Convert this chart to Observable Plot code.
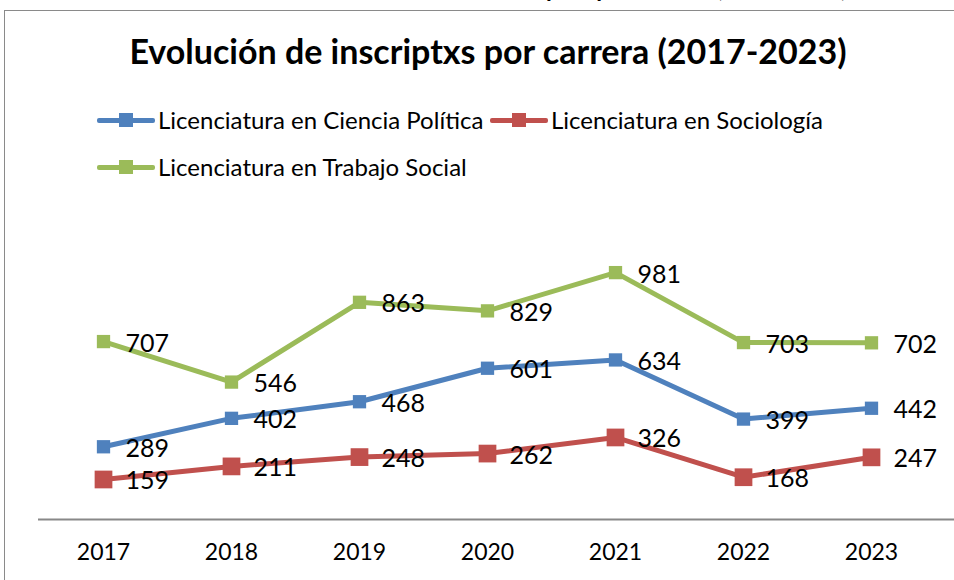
<!DOCTYPE html>
<html>
<head>
<meta charset="utf-8">
<script src="https://cdn.jsdelivr.net/npm/d3@7"></script>
<script src="https://cdn.jsdelivr.net/npm/@observablehq/plot@0.6"></script>
<style>
  html, body { margin: 0; padding: 0; background: #fff; }
  #wrap { position: relative; width: 954px; height: 580px; overflow: hidden; font-family: Lato, "Open Sans", sans-serif; color: #000; }
  #frame { position: absolute; left: 4px; top: 10px; width: 1000px; height: 600px; border: 1.5px solid #8a8a8a; box-sizing: border-box; }
  #cut { position: absolute; right: 107px; top: -24px; font-weight: 700; font-size: 23.5px; line-height: 24px; white-space: nowrap; }
  #title { position: absolute; left: 0; width: 976px; top: 30px; text-align: center; font-weight: 700; font-size: 34px; white-space: nowrap; }
  .leg { position: absolute; display: flex; align-items: center; font-size: 24px; white-space: nowrap; }
  .sw { position: relative; width: 58px; height: 14px; margin-right: 3px; }
  .sw .ln { position: absolute; left: 0; right: 0; top: 5px; height: 5px; border-radius: 2px; }
  .sw .sq { position: absolute; left: 22px; top: 0; width: 14px; height: 14px; }
  #chart { position: absolute; left: 0; top: 190px; }
</style>
</head>
<body>
<div id="wrap">
  <div id="cut">Evolución de inscriptxs por carrera (2017-2023)</div>
  <div id="frame"></div>
  <div id="title">Evolución de inscriptxs por carrera (2017-2023)</div>
  <div id="legend"></div>
  <div id="chart"></div>
</div>
<script>
const years = [2017, 2018, 2019, 2020, 2021, 2022, 2023];
const seriesNames = ["Licenciatura en Ciencia Política", "Licenciatura en Sociología", "Licenciatura en Trabajo Social"];
const cienciaPolitica = [289, 402, 468, 601, 634, 399, 442];
const sociologia = [159, 211, 248, 262, 326, 168, 247];
const trabajoSocial = [707, 546, 863, 829, 981, 703, 702];
const colors = ["#4F81BD", "#C0504D", "#9BBB59"];

const seriesValues = [cienciaPolitica, sociologia, trabajoSocial];
const data = seriesNames.flatMap((s, i) => years.map((y, j) => ({year: y, value: seriesValues[i][j], serie: s})));

// Legend
const legendPos = [[97, 109], [490, 109], [97, 156]];
const legend = document.getElementById("legend");
seriesNames.forEach((s, i) => {
  const el = document.createElement("div");
  el.className = "leg";
  el.style.left = legendPos[i][0] + "px";
  el.style.top = (legendPos[i][1] - 4) + "px";
  el.innerHTML = `<div class="sw"><div class="ln" style="background:${colors[i]}"></div><div class="sq" style="background:${colors[i]}"></div></div><span>${s}</span>`;
  legend.appendChild(el);
});

const chart = Plot.plot({
  width: 954,
  height: 390,
  marginTop: 27,
  marginBottom: 61,
  marginLeft: 38,
  marginRight: 0,
  style: {fontFamily: "Lato, 'Open Sans', sans-serif", color: "#000", background: "transparent", overflow: "visible"},
  x: {type: "point", domain: years, range: [36.6, 938.4], label: null},
  y: {domain: [0, 1200], axis: null},
  color: {domain: seriesNames, range: colors},
  marks: [
    Plot.ruleY([0], {stroke: "#888", strokeWidth: 2}),
    Plot.lineY(data, {x: "year", y: "value", z: "serie", stroke: "serie", strokeWidth: 5}),
    Plot.dot(data.filter(d => d.serie !== seriesNames[1]), {x: "year", y: "value", fill: "serie", symbol: "square", r: 7.5}),
    Plot.dot(data.filter(d => d.serie === seriesNames[1]), {x: "year", y: "value", fill: "serie", symbol: "square", r: 10}),
    Plot.text(data, {x: "year", y: "value", text: d => String(d.value), dx: 22, dy: 2, textAnchor: "start", fontSize: 25, fill: "#000"}),
    Plot.axisX({tickSize: 0, tickPadding: 24, fontSize: 23, tickFormat: d => String(d)})
  ]
});
document.getElementById("chart").appendChild(chart);
</script>
</body>
</html>
